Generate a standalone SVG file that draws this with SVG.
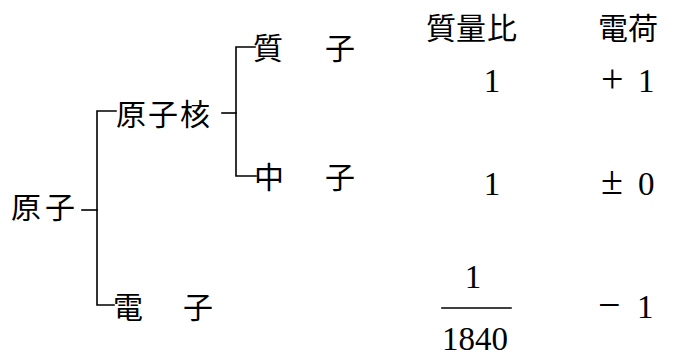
<svg xmlns="http://www.w3.org/2000/svg" width="677" height="363" viewBox="0 0 677 363">
<style>
.j{font-family:"Noto Sans CJK JP","Noto Sans CJK SC",sans-serif;font-size:30px;fill:#000}
.n{font-family:"Liberation Serif","Times New Roman",serif;font-size:33px;fill:#000}
.s{font-family:"Liberation Serif","Times New Roman",serif;font-size:40px;fill:#000}
.c{stroke:#000;stroke-width:1.6;fill:none;stroke-linecap:square}
</style>
<rect width="677" height="363" fill="#fff"/>
<g id="connectors" class="c">
<path d="M82 210H97"/>
<path d="M116 111H97V305H114"/>
<path d="M222 113H236"/>
<path d="M255 47H236V176H256"/>
<path d="M442 308H511"/>
</g>
<g id="atom"><text class="j" x="11 45" y="218">原子</text></g>
<g id="nucleus"><text class="j" x="116 148 180" y="125">原子核</text></g>
<g id="proton"><text class="j" x="253 325" y="59">質子</text></g>
<g id="neutron"><text class="j" x="254 325" y="188">中子</text></g>
<g id="electron"><text class="j" x="113 183" y="318">電子</text></g>
<g id="header">
<text class="j" x="426 456 487" y="39">質量比</text>
<text class="j" x="598 628" y="39">電荷</text>
</g>
<g id="mass">
<text class="n" x="492" y="92" text-anchor="middle">1</text>
<text class="n" x="492" y="195" text-anchor="middle">1</text>
<text class="n" x="473" y="288" text-anchor="middle">1</text>
<text class="n" x="475" y="350" text-anchor="middle">1840</text>
</g>
<g id="charge">
<text class="s" x="601" y="92">+</text><text class="n" x="638" y="92">1</text>
<text class="s" x="601" y="194">±</text><text class="n" x="638" y="195">0</text>
<text class="s" x="598" y="318">−</text><text class="n" x="637" y="318">1</text>
</g>
</svg>
